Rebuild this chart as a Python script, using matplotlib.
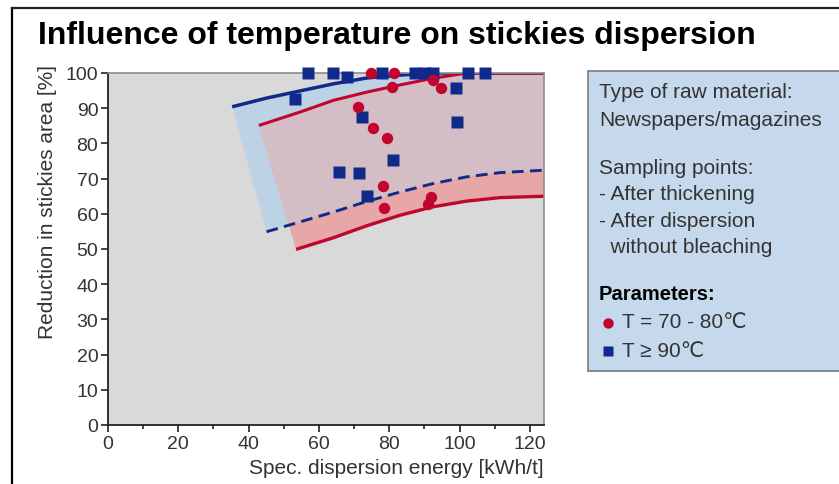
import numpy as np
import matplotlib
import matplotlib.pyplot as plt
from matplotlib.patches import Polygon, Rectangle
from matplotlib.lines import Line2D

matplotlib.use('Agg')
plt.rcParams['font.family'] = ['Liberation Sans', 'DejaVu Sans']

# measured points
red_x = [74.7, 81.3, 80.7, 92.5, 94.6, 71.0, 75.3, 79.3, 78.3, 78.5, 92.0, 90.9]
red_y = [100, 100, 96.1, 98.1, 95.7, 90.3, 84.3, 81.6, 67.8, 61.7, 64.8, 62.7]
blue_x = [57.0, 63.9, 67.9, 78.0, 87.3, 90.2, 92.4, 102.5, 107.2, 53.2, 98.9,
          72.3, 99.2, 81.0, 65.8, 71.5, 73.6]
blue_y = [100, 100, 99.0, 100, 100, 100, 100, 100, 100, 92.6, 95.7,
          87.6, 86.0, 75.2, 71.9, 71.6, 65.1]

# band boundaries
blue_up_x = [35.3, 45.2, 54.6, 64.0, 73.7, 83.0, 92.4, 124.3]
blue_up_y = [90.4, 92.9, 94.9, 96.9, 98.6, 99.4, 100, 100]
blue_lo_x = [45.1, 54.6, 64.1, 73.6, 83.1, 92.5, 102.0, 111.5, 124.3]
blue_lo_y = [54.9, 57.7, 60.5, 63.5, 66.2, 68.6, 70.5, 71.7, 72.4]
red_up_x = [42.9, 54.6, 64.0, 73.7, 83.0, 92.4, 102.1, 124.3]
red_up_y = [85.1, 88.9, 92.2, 94.6, 96.6, 98.5, 100, 100]
red_lo_x = [53.5, 64.1, 73.6, 83.1, 92.5, 102.0, 111.5, 124.3]
red_lo_y = [49.9, 53.2, 56.6, 59.6, 62.0, 63.6, 64.6, 65.0]

x_ticks = [0, 20, 40, 60, 80, 100, 120]
y_ticks = list(range(0, 101, 10))

BLUE = '#102a8c'
RED = '#c0062e'
TXT = '#333333'

fig = plt.figure(figsize=(8.39, 4.85), dpi=100)
fig.patch.set_facecolor('white')

# outer frame
fig.add_artist(Line2D([12 / 839, 12 / 839], [0, 1 - 9 / 485], transform=fig.transFigure,
                      color='black', lw=1.6))
fig.add_artist(Line2D([12 / 839, 1], [1 - 9 / 485, 1 - 9 / 485], transform=fig.transFigure,
                      color='#222222', lw=1.6))

fig.text(38 / 839, 1 - 36 / 485, 'Influence of temperature on stickies dispersion',
         fontsize=23, fontweight='bold', color='black', va='center', ha='left')

ax = fig.add_axes([108 / 839, 1 - 426 / 485, 436 / 839, 352 / 485])
ax.set_facecolor('#d9d9d9')
ax.set_xlim(0, 124)
ax.set_ylim(0, 100)

blue_poly = np.column_stack([blue_up_x + blue_lo_x[::-1], blue_up_y + blue_lo_y[::-1]])
red_poly = np.column_stack([red_up_x + red_lo_x[::-1], red_up_y + red_lo_y[::-1]])

bp = Polygon(blue_poly, closed=True, facecolor='#bed2e6', edgecolor='none', zorder=1)
ax.add_patch(bp)
rp = Polygon(red_poly, closed=True, facecolor='#e6a7a6', edgecolor='none', zorder=1.1)
ax.add_patch(rp)
mp = Polygon(red_poly, closed=True, facecolor='#d5bdc5', edgecolor='none', zorder=1.2)
ax.add_patch(mp)
mp.set_clip_path(bp)

ax.plot(blue_up_x, blue_up_y, color=BLUE, lw=2.5, zorder=2, solid_capstyle='butt')
ax.plot(blue_lo_x, blue_lo_y, color=BLUE, lw=2.1, ls=(0, (4, 2.2)), zorder=2)
ax.plot(red_up_x, red_up_y, color=RED, lw=2.2, zorder=2, solid_capstyle='butt')
ax.plot(red_lo_x, red_lo_y, color=RED, lw=2.4, zorder=2, solid_capstyle='butt')

ax.plot(blue_x, blue_y, ls='none', marker='s', ms=8.8, color=BLUE, mec='none',
        clip_on=False, zorder=5)
ax.plot(red_x, red_y, ls='none', marker='o', ms=8.2, color=RED, mec='none',
        clip_on=False, zorder=5)

for s in ['top', 'right']:
    ax.spines[s].set_color('#8c8c8c')
    ax.spines[s].set_linewidth(1.2)
for s in ['left', 'bottom']:
    ax.spines[s].set_color('#222222')
    ax.spines[s].set_linewidth(1.3)

ax.set_xticks(x_ticks)
ax.set_xticks(range(10, 121, 20), minor=True)
ax.set_yticks(y_ticks)
ax.tick_params(axis='both', which='major', direction='out', length=5, width=1.2,
               color='#222222', labelsize=14, labelcolor=TXT, pad=2)
ax.tick_params(axis='x', which='minor', direction='out', length=3, width=1.2, color='#222222')

ax.set_xlabel('Spec. dispersion energy [kWh/t]', fontsize=15, color=TXT)
ax.xaxis.set_label_coords(1.0, -0.095)
ax.xaxis.label.set_ha('right')
ax.set_ylabel('Reduction in stickies area [%]', fontsize=15, color=TXT)
ax.yaxis.set_label_coords(-0.117, 0.636)

# info box
fig.add_artist(Rectangle((588 / 839, 1 - 372 / 485), 300 / 839, 300 / 485,
                         transform=fig.transFigure, facecolor='#c6d9ec',
                         edgecolor='#7a7a7a', lw=1.2))
lines = [('Type of raw material:', 93), ('Newspapers/magazines', 121),
         ('Sampling points:', 168), ('- After thickening', 195),
         ('- After dispersion', 222), ('  without bleaching', 248)]
for t, py in lines:
    fig.text(599 / 839, 1 - py / 485, t, fontsize=15, color=TXT, va='center', ha='left')
fig.text(599 / 839, 1 - 295 / 485, 'Parameters:', fontsize=14.5, fontweight='bold',
         color='black', va='center', ha='left')
fig.add_artist(Line2D([608 / 839], [1 - 324 / 485], transform=fig.transFigure, marker='o',
                      ms=7.5, color=RED, mec='none', ls='none'))
fig.add_artist(Line2D([608 / 839], [1 - 352 / 485], transform=fig.transFigure, marker='s',
                      ms=6.5, color=BLUE, mec='none', ls='none'))
fig.text(622 / 839, 1 - 323 / 485, 'T = 70 - 80℃', fontsize=15, color=TXT,
         va='center', ha='left')
fig.text(622 / 839, 1 - 352 / 485, 'T ≥ 90℃', fontsize=15, color=TXT,
         va='center', ha='left')

fig.savefig('out.png', dpi=100)
